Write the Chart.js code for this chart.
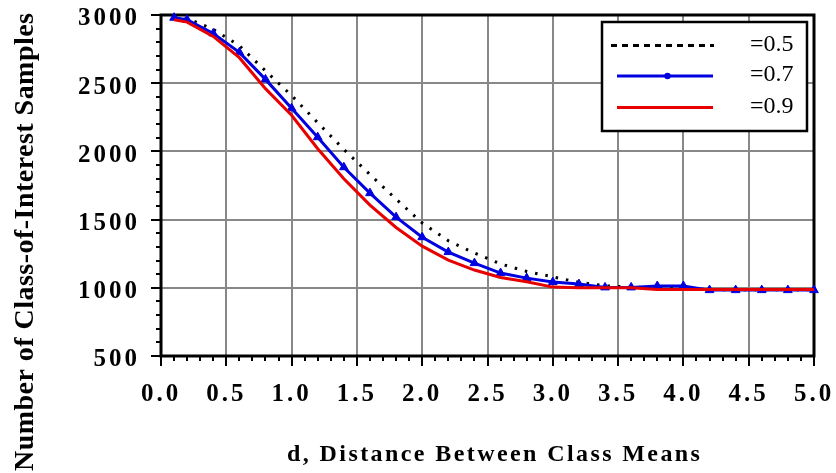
<!DOCTYPE html>
<html>
<head>
<meta charset="utf-8">
<script src="https://cdn.jsdelivr.net/npm/chart.js@4/dist/chart.umd.min.js"></script>
<style>
  html, body { margin: 0; padding: 0; background: #fff; }
  #wrap { width: 836px; height: 473px; position: relative; }
</style>
</head>
<body>
<div id="wrap"><canvas id="c" width="836" height="473"></canvas></div>
<script>
// ---- data ----
const distances = [0.1, 0.2, 0.4, 0.6, 0.8, 1.0, 1.2, 1.4, 1.6, 1.8, 2.0, 2.2, 2.4, 2.6, 2.8, 3.0, 3.2, 3.4, 3.6, 3.8, 4.0, 4.2, 4.4, 4.6, 4.8, 5.0];
const rho05 = [2985, 2975, 2895, 2775, 2590, 2410, 2210, 2015, 1830, 1650, 1475, 1345, 1255, 1175, 1120, 1080, 1040, 1015, 1005, 1000, 1000, 985, 985, 985, 985, 985];
const rho07 = [2980, 2965, 2865, 2726, 2528, 2316, 2104, 1884, 1694, 1518, 1371, 1262, 1181, 1108, 1071, 1042, 1027, 1003, 1003, 1013, 1013, 983, 983, 983, 983, 983];
const rho09 = [2965, 2948, 2843, 2687, 2460, 2265, 2020, 1800, 1606, 1442, 1305, 1203, 1130, 1076, 1044, 1005, 1000, 1000, 1000, 988, 988, 988, 988, 988, 988, 988];
const seriesLabels = ['=0.5', '=0.7', '=0.9'];
const xTickLabels = ['0.0', '0.5', '1.0', '1.5', '2.0', '2.5', '3.0', '3.5', '4.0', '4.5', '5.0'];
const yTickLabels = ['500', '1000', '1500', '2000', '2500', '3000'];
const xTitle = 'd, Distance Between Class Means';
const yTitle = 'Number of Class-of-Interest Samples';
const xMinorStep = 0.1;
const yMinorStep = 100;

const SERIF = "'Liberation Serif', 'Times New Roman', serif";
const toPts = arr => distances.map((d, i) => ({ x: d, y: arr[i] }));

function spacedText(ctx, text, font, targetWidth) {
  ctx.font = font;
  ctx.letterSpacing = '0px';
  const w0 = ctx.measureText(text).width;
  const sp = (targetWidth - w0) / (text.length - 1);
  ctx.letterSpacing = sp.toFixed(2) + 'px';
  return sp;
}

const framePlugin = {
  id: 'frame',
  beforeDraw(chart) {
    const ctx = chart.ctx;
    ctx.save();
    ctx.fillStyle = '#fff';
    ctx.fillRect(0, 0, chart.width, chart.height);
    ctx.restore();
    ctx.letterSpacing = '3px';
  },
  beforeDatasetsDraw(chart) {
    const ctx = chart.ctx;
    const xs = chart.scales.x, ys = chart.scales.y;
    const L = xs.getPixelForValue(xs.min), R = xs.getPixelForValue(xs.max);
    const B = ys.getPixelForValue(ys.min), T = ys.getPixelForValue(ys.max);
    ctx.save();
    ctx.strokeStyle = '#000';
    ctx.lineCap = 'butt';
    ctx.lineWidth = 2;
    for (let v = ys.min; v <= ys.max + 1e-6; v += yMinorStep) {
      const p = Math.round(ys.getPixelForValue(v));
      const major = Math.abs(v % 500) < 1e-6;
      ctx.beginPath();
      ctx.moveTo(L - (major ? 10 : 5), p);
      ctx.lineTo(L, p);
      ctx.stroke();
    }
    for (let k = 0; k <= Math.round((xs.max - xs.min) / xMinorStep); k++) {
      const v = xs.min + k * xMinorStep;
      const p = Math.round(xs.getPixelForValue(v));
      const major = k % 5 === 0;
      ctx.beginPath();
      ctx.moveTo(p, B);
      ctx.lineTo(p, B + (major ? 10 : 5));
      ctx.stroke();
    }
    ctx.lineWidth = 3;
    ctx.beginPath();
    ctx.moveTo(L, T - 1.5); ctx.lineTo(L, B + 1.5);
    ctx.moveTo(L - 1.5, B); ctx.lineTo(R + 1.5, B);
    ctx.moveTo(L - 1.5, T); ctx.lineTo(R + 1.5, T);
    ctx.moveTo(R, T - 1.5); ctx.lineTo(R, B + 1.5);
    ctx.stroke();
    ctx.restore();
  },
  afterDraw(chart) {
    const ctx = chart.ctx;
    // y title
    ctx.save();
    spacedText(ctx, yTitle, "bold 28px " + SERIF, 458);
    ctx.translate(33, 242);
    ctx.rotate(-Math.PI / 2);
    ctx.fillStyle = '#000';
    ctx.textAlign = 'left';
    ctx.textBaseline = 'alphabetic';
    ctx.fillText(yTitle, -229, 0);
    ctx.restore();

    // x title
    ctx.save();
    spacedText(ctx, xTitle, "bold 24px " + SERIF, 413);
    ctx.fillStyle = '#000';
    ctx.textAlign = 'left';
    ctx.textBaseline = 'alphabetic';
    ctx.fillText(xTitle, 287, 461);
    ctx.restore();

    // legend
    ctx.save();
    ctx.letterSpacing = '0px';
    const bx = 602, by = 22, bw = 205, bh = 109;
    ctx.fillStyle = '#fff';
    ctx.fillRect(bx, by, bw, bh);
    ctx.strokeStyle = '#000';
    ctx.lineWidth = 2.5;
    ctx.strokeRect(bx, by, bw, bh);
    const rows = [45.5, 76, 107.5];
    const ds = chart.data.datasets;
    rows.forEach((ry, i) => {
      const d = ds[i];
      ctx.save();
      ctx.strokeStyle = d.borderColor;
      if (i === 0) {
        ctx.lineWidth = 3;
        ctx.setLineDash([6, 5]);
        ctx.beginPath(); ctx.moveTo(611, ry); ctx.lineTo(714, ry); ctx.stroke();
      } else {
        ctx.lineWidth = 3;
        ctx.beginPath(); ctx.moveTo(617, ry); ctx.lineTo(713, ry); ctx.stroke();
        if (i === 1) {
          ctx.fillStyle = d.borderColor;
          ctx.beginPath(); ctx.arc(667.5, ry, 3.2, 0, Math.PI * 2); ctx.fill();
        }
      }
      ctx.restore();
      ctx.fillStyle = '#000';
      ctx.font = "24px " + SERIF;
      ctx.textAlign = 'left';
      ctx.textBaseline = 'middle';
      ctx.fillText(seriesLabels[i], 750, ry - 1);
    });
    ctx.restore();
  }
};

const zeroPad = s => { s.paddingLeft = 0; s.paddingRight = 0; s.paddingTop = 0; s.paddingBottom = 0; };

new Chart(document.getElementById('c'), {
  type: 'line',
  data: {
    datasets: [
      { label: seriesLabels[0], data: toPts(rho05), borderColor: '#000000', borderWidth: 3,
        borderDash: [2.5, 8], pointRadius: 0, tension: 0, clip: false, order: 2 },
      { label: seriesLabels[1], data: toPts(rho07), borderColor: '#0000e0', backgroundColor: '#0000e0',
        borderWidth: 3, pointStyle: 'triangle', pointRadius: 5, pointBorderWidth: 1,
        tension: 0, clip: false, order: 1 },
      { label: seriesLabels[2], data: toPts(rho09), borderColor: '#e80000', borderWidth: 3,
        pointRadius: 0, tension: 0, clip: false, order: 0 }
    ]
  },
  options: {
    responsive: false,
    animation: false,
    devicePixelRatio: 1,
    layout: { padding: { top: 15, right: 22, left: 0, bottom: 0 } },
    plugins: { legend: { display: false }, tooltip: { enabled: false } },
    scales: {
      x: {
        type: 'linear', min: 0, max: 5,
        border: { display: false },
        grid: { color: '#888888', lineWidth: 2, drawTicks: false },
        ticks: {
          stepSize: 0.5, autoSkip: false, maxRotation: 0, padding: 24, color: '#000',
          font: { family: SERIF, size: 25, weight: 'bold' },
          callback: (v, i) => xTickLabels[i]
        },
        afterFit: s => { s.height = 117; zeroPad(s); }
      },
      y: {
        type: 'linear', min: 500, max: 3000,
        border: { display: false },
        grid: { color: '#888888', lineWidth: 2, drawTicks: false },
        ticks: {
          stepSize: 500, autoSkip: false, padding: 21, labelOffset: 4, color: '#000',
          font: { family: SERIF, size: 25, weight: 'bold' },
          callback: (v, i) => yTickLabels[i]
        },
        afterFit: s => { s.width = 161; zeroPad(s); }
      }
    }
  },
  plugins: [framePlugin]
});
</script>
</body>
</html>
